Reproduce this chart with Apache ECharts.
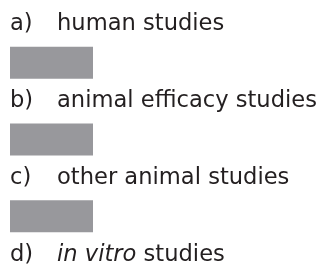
<!DOCTYPE html>
<html><head><meta charset="utf-8">
<script src="https://cdn.jsdelivr.net/npm/echarts@6/dist/echarts.min.js"></script>
<style>html,body{margin:0;padding:0;background:#fff}#c{width:323px;height:274px}</style>
</head><body><div id="c"></div>
<script>
var markers = ['a)', '', 'b)', '', 'c)', '', 'd)'];
var labels = ['human studies', '', 'animal efficacy studies', '', 'other animal studies', '', '{i|in vitro} studies'];
var barValues = [null, 83, null, 83, null, 83, null];

var chart = echarts.init(document.getElementById('c'));
chart.setOption({
  animation: false,
  grid: {left: 10, top: 5, width: 300, height: 278},
  xAxis: {type: 'value', min: 0, max: 300, show: false},
  yAxis: {
    type: 'category', inverse: true,
    data: markers.map(function (m, i) { return m ? '{m|' + m + '}' + labels[i] : ''; }),
    axisLine: {show: false}, axisTick: {show: false},
    axisLabel: {
      inside: true, margin: 0, align: 'left',
      color: '#231f20', fontFamily: 'DejaVu Sans', fontSize: 22.6,
      rich: {
        m: {width: 47, color: '#231f20', fontFamily: 'DejaVu Sans', fontSize: 22.6},
        i: {fontStyle: 'italic', color: '#231f20', fontFamily: 'DejaVu Sans', fontSize: 22.6}
      }
    }
  },
  series: [{
    type: 'bar', data: barValues, barWidth: 32,
    itemStyle: {color: '#98989c'}
  }]
});
</script></body></html>
